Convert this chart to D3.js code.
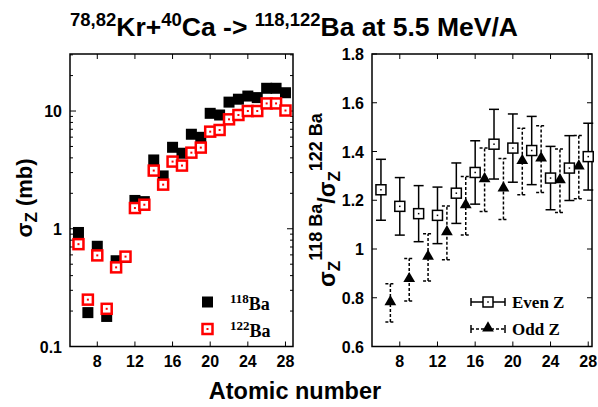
<!DOCTYPE html>
<html>
<head>
<meta charset="utf-8">
<title>Kr+Ca -> Ba cross sections</title>
<script src="https://d3js.org/d3.v7.min.js"></script>
<style type="text/css">
    body { margin: 0; background: #fff; }
    text { font-family: "Liberation Sans", Arial, sans-serif; font-weight: bold; fill: #000; }
    .leg { font-family: "Liberation Serif", "Times New Roman", serif; }
    .frame { fill: none; stroke: #000; stroke-width: 1.5px; }
    .tick { stroke: #000; stroke-width: 1px; }
</style>
</head>
<body>
<div id="svg-container"></div>
<script type="text/javascript">

    // ---- data ----
    var zAll = [6, 7, 8, 9, 10, 11, 12, 13, 14, 15, 16, 17, 18, 19, 20, 21, 22, 23, 24, 25, 26, 27, 28];
    var sigma118 = [0.93, 0.194, 0.71, 0.18, 0.535, 0.57, 1.74, 1.70, 3.84, 2.81, 4.92, 4.38, 6.35, 5.98,
                    9.56, 9.25, 11.9, 12.6, 13.4, 13.0, 15.6, 15.6, 14.3];
    var sigma122 = [0.74, 0.25, 0.594, 0.209, 0.47, 0.58, 1.50, 1.60, 3.12, 2.37, 3.72, 3.44, 4.43, 4.89,
                    6.68, 6.90, 8.5, 9.25, 10.0, 10.0, 11.6, 11.6, 10.1];

    var zEven = [6, 8, 10, 12, 14, 16, 18, 20, 22, 24, 26, 28];
    var ratioEven = [1.243, 1.175, 1.145, 1.138, 1.229, 1.314, 1.430, 1.414, 1.404, 1.291, 1.332, 1.379];
    var errEven = [0.125, 0.118, 0.115, 0.116, 0.124, 0.130, 0.143, 0.140, 0.140, 0.130, 0.133, 0.137];

    var zOdd = [7, 9, 11, 13, 15, 17, 19, 21, 23, 25, 27];
    var ratioOdd = [0.779, 0.874, 0.966, 1.066, 1.177, 1.284, 1.246, 1.359, 1.369, 1.280, 1.336];
    var errOdd = [0.078, 0.087, 0.097, 0.110, 0.120, 0.130, 0.125, 0.136, 0.137, 0.130, 0.130];

    var xTicks = [8, 12, 16, 20, 24, 28];
    var logMajor = [0.1, 1, 10];
    var logMinor = [0.2, 0.3, 0.4, 0.5, 0.6, 0.7, 0.8, 0.9, 2, 3, 4, 5, 6, 7, 8, 9, 20, 30];
    var ratioTicks = [0.6, 0.8, 1, 1.2, 1.4, 1.6, 1.8];

    var width = 598, height = 407;

    var svg = d3.select("#svg-container")
        .append("svg")
        .attr("width", width)
        .attr("height", height);

    // ---- scales ----
    var yTop = 54, yBottom = 346.5;

    var xL = d3.scaleLinear().domain([5.1, 28.8]).range([70, 293]);
    var yL = d3.scaleLog().domain([0.1, 30.5]).range([yBottom, yTop]);

    var xR = d3.scaleLinear().domain([5.05, 28.4]).range([372, 592]);
    var yR = d3.scaleLinear().domain([0.6, 1.8]).range([yBottom, yTop]);

    // ---- frames and ticks ----
    function frame(x) {
        var g = svg.append("g");
        g.append("rect").attr("class", "frame")
            .attr("x", x.range()[0]).attr("y", yTop)
            .attr("width", x.range()[1] - x.range()[0])
            .attr("height", yBottom - yTop);

        xTicks.forEach(function(t) {
            g.append("line").attr("class", "tick")
                .attr("x1", x(t)).attr("x2", x(t)).attr("y1", yBottom).attr("y2", yBottom - 5);
            g.append("line").attr("class", "tick")
                .attr("x1", x(t)).attr("x2", x(t)).attr("y1", yTop).attr("y2", yTop + 5);
            g.append("text")
                .attr("x", x(t)).attr("y", yBottom + 20)
                .attr("text-anchor", "middle")
                .style("font-size", "16px")
                .text(t);
        });
        return g;
    }

    function yTick(g, x, yy, len) {
        var x0 = x.range()[0], x1 = x.range()[1];
        g.append("line").attr("class", "tick")
            .attr("x1", x0).attr("x2", x0 + len).attr("y1", yy).attr("y2", yy);
        g.append("line").attr("class", "tick")
            .attr("x1", x1).attr("x2", x1 - len).attr("y1", yy).attr("y2", yy);
    }

    var gL = frame(xL);
    logMajor.forEach(function(t) {
        yTick(gL, xL, yL(t), 6);
        gL.append("text")
            .attr("x", xL.range()[0] - 8).attr("y", yL(t) + 6)
            .attr("text-anchor", "end")
            .style("font-size", "16px")
            .text(t);
    });
    logMinor.forEach(function(t) { yTick(gL, xL, yL(t), 3); });

    var gR = frame(xR);
    ratioTicks.forEach(function(t) {
        yTick(gR, xR, yR(t), 5);
        gR.append("text")
            .attr("x", xR.range()[0] - 8).attr("y", yR(t) + 6)
            .attr("text-anchor", "end")
            .style("font-size", "16px")
            .text(t);
    });

    // ---- left panel markers ----
    var leftData = zAll.map(function(z, i) { return { z: z, a: sigma118[i], b: sigma122[i] }; });

    gL.selectAll("rect.b118")
        .data(leftData).enter()
        .append("rect")
        .attr("class", "b118")
        .attr("x", function(d) { return xL(d.z) - 5.5; })
        .attr("y", function(d) { return yL(d.a) - 5.5; })
        .attr("width", 11).attr("height", 11)
        .style("fill", "#000");

    function redSquare(g, cx, cy) {
        g.append("rect")
            .attr("x", cx - 5).attr("y", cy - 5)
            .attr("width", 10).attr("height", 10)
            .style("fill", "#fff").style("stroke", "#f00").style("stroke-width", 2.5);
        g.append("rect")
            .attr("x", cx - 1).attr("y", cy - 1)
            .attr("width", 2).attr("height", 2)
            .style("fill", "#f00");
    }

    leftData.forEach(function(d) { redSquare(gL, xL(d.z), yL(d.b)); });

    // left legend
    gL.append("rect").attr("x", 202).attr("y", 296.5).attr("width", 11).attr("height", 11).style("fill", "#000");
    redSquare(gL, 207.5, 329);

    function isoLabel(g, x, y, mass) {
        var t = g.append("text").attr("class", "leg").attr("x", x).attr("y", y).style("font-size", "18px");
        t.append("tspan").attr("dy", -7).style("font-size", "13px").text(mass);
        t.append("tspan").attr("dy", 7).text("Ba");
    }
    isoLabel(gL, 230, 310, "118");
    isoLabel(gL, 230, 337, "122");

    // ---- right panel: error bars and markers ----
    function errBar(g, cx, v, e, dashed) {
        var y0 = yR(v - e), y1 = yR(v + e);
        var s = [
            [cx, y0, cx, y1],
            [cx - 5, y0, cx + 5, y0],
            [cx - 5, y1, cx + 5, y1]
        ];
        s.forEach(function(p) {
            g.append("line")
                .attr("x1", p[0]).attr("y1", p[1]).attr("x2", p[2]).attr("y2", p[3])
                .style("stroke", "#000")
                .style("stroke-width", 1.5)
                .style("stroke-dasharray", dashed ? "3,2" : null);
        });
    }

    var triangle = d3.symbol().type(d3.symbolTriangle).size(60);

    zOdd.forEach(function(z, i) { errBar(gR, xR(z), ratioOdd[i], errOdd[i], true); });
    zEven.forEach(function(z, i) { errBar(gR, xR(z), ratioEven[i], errEven[i], false); });

    gR.selectAll("path.odd")
        .data(zOdd).enter()
        .append("path")
        .attr("class", "odd")
        .attr("d", triangle)
        .attr("transform", function(z, i) { return "translate(" + xR(z) + "," + (yR(ratioOdd[i]) - 1) + ")"; })
        .style("fill", "#000");

    function openSquare(g, cx, cy) {
        g.append("rect")
            .attr("x", cx - 5).attr("y", cy - 5)
            .attr("width", 10).attr("height", 10)
            .style("fill", "#fff").style("stroke", "#000").style("stroke-width", 1.5);
        g.append("rect")
            .attr("x", cx - 0.75).attr("y", cy - 0.75)
            .attr("width", 1.5).attr("height", 1.5)
            .style("fill", "#000");
    }
    zEven.forEach(function(z, i) { openSquare(gR, xR(z), yR(ratioEven[i])); });

    // right legend
    function legLine(g, y, dashed) {
        g.append("line").attr("x1", 471).attr("x2", 505).attr("y1", y).attr("y2", y)
            .style("stroke", "#000").style("stroke-width", 1.5)
            .style("stroke-dasharray", dashed ? "3,2" : null);
        [471, 505].forEach(function(x) {
            g.append("line").attr("x1", x).attr("x2", x).attr("y1", y - 4).attr("y2", y + 4)
                .style("stroke", "#000").style("stroke-width", 1.5);
        });
    }
    legLine(gR, 302, false);
    openSquare(gR, 488, 302);
    legLine(gR, 329, true);
    gR.append("path").attr("d", triangle).attr("transform", "translate(488,328)").style("fill", "#000");

    gR.append("text").attr("class", "leg").attr("x", 512).attr("y", 308).style("font-size", "17px").text("Even Z");
    gR.append("text").attr("class", "leg").attr("x", 512).attr("y", 335).style("font-size", "17px").text("Odd Z");

    // ---- titles ----
    var title = svg.append("text").attr("x", 70).attr("y", 36).style("font-size", "26.5px");
    [["78,82", true], ["Kr+", false], ["40", true], ["Ca -> ", false], ["118,122", true], ["Ba at 5.5 MeV/A", false]]
        .forEach(function(p, i) {
            title.append("tspan")
                .attr("dy", p[1] ? -10 : (i ? 10 : 0))
                .style("font-size", p[1] ? "18.5px" : "26.5px")
                .text(p[0]);
        });

    svg.append("text")
        .attr("x", 295).attr("y", 399)
        .attr("text-anchor", "middle")
        .style("font-size", "23.5px")
        .text("Atomic number");

    var yl = svg.append("text")
        .attr("transform", "translate(32,198) rotate(-90)")
        .attr("text-anchor", "middle")
        .style("font-size", "22px");
    yl.append("tspan").text("\u03c3");
    yl.append("tspan").attr("dy", 5).style("font-size", "17px").text("Z");
    yl.append("tspan").attr("dy", -5).text(" (mb)");

    var yr = svg.append("text")
        .attr("transform", "translate(335,200) rotate(-90)")
        .attr("text-anchor", "middle")
        .style("font-size", "23px");
    yr.append("tspan").text("\u03c3");
    yr.append("tspan").attr("dy", 5).style("font-size", "17px").text("Z");
    yr.append("tspan").attr("dy", -18).style("font-size", "18px").text("118 Ba");
    yr.append("tspan").attr("dy", 13).text("/\u03c3");
    yr.append("tspan").attr("dy", 5).style("font-size", "17px").text("Z");
    yr.append("tspan").attr("dy", -18).style("font-size", "18px").text("122 Ba");

</script>
</body>
</html>
